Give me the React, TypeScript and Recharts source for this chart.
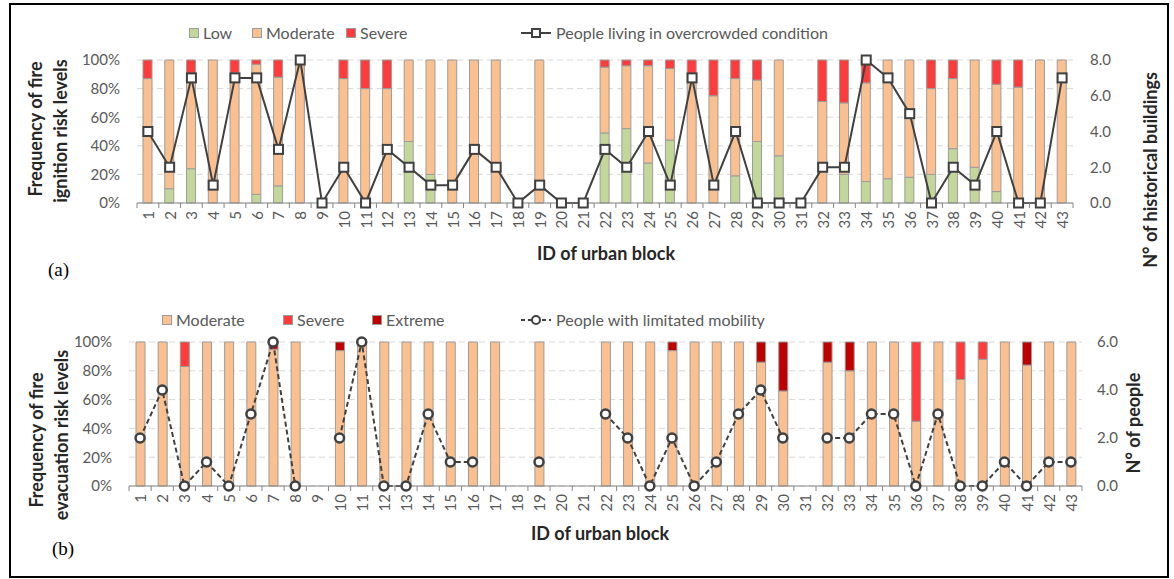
import React from 'react';
import { ComposedChart, Bar, Line, XAxis, YAxis, CartesianGrid } from 'recharts';

const FONT = 'Lato, "Open Sans", sans-serif';

const blockIds = [
  '1', '2', '3', '4', '5', '6', '7', '8', '9', '10', '11', '12', '13', '14', '15',
  '16', '17', '18', '19', '20', '21', '22', '23', '24', '25', '26', '27', '28', '29',
  '30', '31', '32', '33', '34', '35', '36', '37', '38', '39', '40', '41', '42', '43',
];

// (a) ignition risk, % of buildings per block
const lowIgnition = [
  0, 10, 24, 0, 0, 6, 12, 0, null, 0, 0, 0, 43, 20, 0, 0, 0, null, 0, null, null,
  49, 52, 28, 44, 0, 0, 19, 43, 33, null, 0, 20, 15, 17, 18, 20, 38, 25, 8, 0, 0, 0,
];
const moderateIgnition = [
  87, 90, 63, 100, 91, 91, 76, 100, null, 87, 80, 80, 57, 80, 100, 100, 100, null, 100, null, null,
  46, 44, 68, 50, 90, 75, 68, 43, 67, null, 71, 50, 69, 83, 82, 60, 49, 75, 75, 81, 100, 100,
];
const severeIgnition = [
  13, 0, 13, 0, 9, 3, 12, 0, null, 13, 20, 20, 0, 0, 0, 0, 0, null, 0, null, null,
  5, 4, 4, 6, 10, 25, 13, 14, 0, null, 29, 30, 16, 0, 0, 20, 13, 0, 17, 19, 0, 0,
];
const overcrowded = [
  4, 2, 7, 1, 7, 7, 3, 8, 0, 2, 0, 3, 2, 1, 1, 3, 2, 0, 1, 0, 0,
  3, 2, 4, 1, 7, 1, 4, 0, 0, 0, 2, 2, 8, 7, 5, 0, 2, 1, 4, 0, 0, 7,
];

// (b) evacuation risk
const moderateEvacuation = [
  100, 100, 83, 100, 100, 100, 95, 100, null, 94, 100, 100, 100, 100, 100, 100, 100, null, 100, null, null,
  100, 100, 100, 94, 100, 100, 100, 86, 66, null, 86, 80, 100, 100, 45, 100, 74, 88, 100, 84, 100, 100,
];
const severeEvacuation = [
  0, 0, 17, 0, 0, 0, 0, 0, null, 0, 0, 0, 0, 0, 0, 0, 0, null, 0, null, null,
  0, 0, 0, 0, 0, 0, 0, 0, 0, null, 0, 0, 0, 0, 55, 0, 26, 12, 0, 0, 0, 0,
];
const extremeEvacuation = [
  0, 0, 0, 0, 0, 0, 5, 0, null, 6, 0, 0, 0, 0, 0, 0, 0, null, 0, null, null,
  0, 0, 0, 6, 0, 0, 0, 14, 34, null, 14, 20, 0, 0, 0, 0, 0, 0, 0, 16, 0, 0,
];
const limitedMobility = [
  2, 4, 0, 1, 0, 3, 6, 0, null, 2, 6, 0, 0, 3, 1, 1, null, null, 1, null, null,
  3, 2, 0, 2, 0, 1, 3, 4, 2, null, 2, 2, 3, 3, 0, 3, 0, 0, 1, 0, 1, 1,
];

const ignitionRows = blockIds.map((id, i) => ({
  id,
  low: lowIgnition[i],
  moderate: moderateIgnition[i],
  severe: severeIgnition[i],
  people: overcrowded[i],
}));

const evacuationRows = blockIds.map((id, i) => ({
  id,
  moderate: moderateEvacuation[i],
  severe: severeEvacuation[i],
  extreme: extremeEvacuation[i],
  people: limitedMobility[i],
}));

const LOW = '#c4d79b';
const MODERATE = '#fac090';
const SEVERE = '#ff3b3b';
const EXTREME = '#c00000';
const OUTLINE = '#9c9c9c';
const AXIS = '#868686';
const TEXT = '#595959';

const BlockTick = (props: any) => {
  const { x, y, payload, index, band, last } = props;
  const axisY = y - 8;
  return (
    <g>
      <line x1={x - band / 2} x2={x - band / 2} y1={axisY} y2={axisY + 5} stroke={AXIS} />
      {index === last && <line x1={x + band / 2} x2={x + band / 2} y1={axisY} y2={axisY + 5} stroke={AXIS} />}
      <text
        x={x}
        y={y}
        transform={`rotate(-90 ${x} ${y})`}
        textAnchor="end"
        dominantBaseline="central"
        fontSize={15}
        fill={TEXT}
        fontFamily={FONT}
      >
        {payload.value}
      </text>
    </g>
  );
};

const Titles = ({ items }: { items: { text: string; cx: number; cy: number; angle?: number }[] }) => (
  <g>
    {items.map((t, i) => (
      <text
        key={i}
        transform={`translate(${t.cx} ${t.cy}) rotate(${t.angle ?? 0})`}
        textAnchor="middle"
        dominantBaseline="central"
        fontWeight="bold"
        fontSize={18}
        fill="#262626"
        fontFamily={FONT}
      >
        {t.text}
      </text>
    ))}
  </g>
);

const SquareDot = (props: any) => {
  const { cx, cy, index, value } = props;
  if (value == null || cy == null) return <g key={index} />;
  return <rect key={index} x={cx - 4.5} y={cy - 4.5} width={9} height={9} fill="#fff" stroke="#404040" strokeWidth={2} />;
};

const RingDot = (props: any) => {
  const { cx, cy, index, value } = props;
  if (value == null || cy == null) return <g key={index} />;
  return <circle key={index} cx={cx} cy={cy} r={4.5} fill="#fff" stroke="#404040" strokeWidth={2.5} />;
};

const Swatch = ({ color, left, top, label }: { color: string; left: number; top: number; label: string }) => (
  <div style={{ position: 'absolute', left, top, display: 'flex', alignItems: 'center', fontSize: 16, color: TEXT, fontFamily: FONT }}>
    <span style={{ display: 'inline-block', width: 8, height: 8, background: color, border: `1px solid ${OUTLINE}`, marginRight: 4 }} />
    {label}
  </div>
);

const LineKey = ({ left, top, label, dashed, square }: { left: number; top: number; label: string; dashed?: boolean; square?: boolean }) => (
  <div style={{ position: 'absolute', left, top, display: 'flex', alignItems: 'center', fontSize: 16, color: TEXT, fontFamily: FONT }}>
    <svg width={32} height={12} style={{ marginRight: 4 }}>
      <line x1={1} x2={31} y1={6} y2={6} stroke="#404040" strokeWidth={2} strokeDasharray={dashed ? '4 3' : undefined} />
      {square ? (
        <rect x={12} y={2} width={8} height={8} fill="#fff" stroke="#404040" strokeWidth={2} />
      ) : (
        <circle cx={16} cy={6} r={4} fill="#fff" stroke="#404040" strokeWidth={2} />
      )}
    </svg>
    {label}
  </div>
);

const axisTick = { fontSize: 15, fill: TEXT, fontFamily: FONT };

export default function App() {
  return (
    <div style={{ position: 'absolute', left: 0, top: 0, width: 1174, height: 579, background: '#fff', overflow: 'hidden' }}>
      <div style={{ position: 'absolute', left: 9, top: 3, width: 1160, height: 575, border: '2px solid #000', boxSizing: 'border-box' }} />

      {/* (a) ignition risk */}
      <div style={{ position: 'absolute', left: 0, top: 0 }}>
        <ComposedChart width={1174} height={275} data={ignitionRows} margin={{ top: 60, right: 0, bottom: 0, left: 0 }}>
          <CartesianGrid yAxisId="pct" vertical={false} stroke="#d9d9d9" strokeDasharray="6 4" />
          <XAxis
            dataKey="id"
            interval={0}
            height={72}
            tickLine={false}
            tickSize={0}
            tickMargin={8}
            axisLine={{ stroke: AXIS }}
            tick={(p: any) => <BlockTick {...p} band={936 / 43} last={42} />}
            label={<Titles items={[{ text: 'ID of urban block', cx: 606, cy: 253 }]} />}
          />
          <YAxis
            yAxisId="pct"
            width={137}
            domain={[0, 100]}
            ticks={[0, 20, 40, 60, 80, 100]}
            tickFormatter={(v: number) => `${v}%`}
            axisLine={false}
            tickLine={false}
            tickSize={0}
            tickMargin={17}
            tick={axisTick}
            label={
              <Titles
                items={[
                  { text: 'Frequency of fire', cx: 35, cy: 129, angle: -90 },
                  { text: 'ignition risk levels', cx: 60, cy: 131, angle: -90 },
                ]}
              />
            }
          />
          <YAxis
            yAxisId="count"
            orientation="right"
            width={101}
            domain={[0, 8]}
            ticks={[0, 2, 4, 6, 8]}
            tickFormatter={(v: number) => v.toFixed(1)}
            axisLine={false}
            tickLine={false}
            tickSize={0}
            tickMargin={17}
            tick={axisTick}
            label={<Titles items={[{ text: 'N° of historical buildings', cx: 1150, cy: 170, angle: -90 }]} />}
          />
          <Bar yAxisId="pct" dataKey="low" stackId="a" fill={LOW} stroke={OUTLINE} barSize={9} isAnimationActive={false} />
          <Bar yAxisId="pct" dataKey="moderate" stackId="a" fill={MODERATE} stroke={OUTLINE} barSize={9} isAnimationActive={false} />
          <Bar yAxisId="pct" dataKey="severe" stackId="a" fill={SEVERE} stroke={OUTLINE} barSize={9} isAnimationActive={false} />
          <Line
            yAxisId="count"
            dataKey="people"
            stroke="#404040"
            strokeWidth={2}
            dot={(p: any) => <SquareDot {...p} />}
            activeDot={false}
            isAnimationActive={false}
          />
        </ComposedChart>
      </div>

      <Swatch color={LOW} left={189} top={23} label="Low" />
      <Swatch color={MODERATE} left={252} top={23} label="Moderate" />
      <Swatch color={SEVERE} left={346} top={23} label="Severe" />
      <LineKey left={520} top={23} label="People living in overcrowded condition" square />

      <div style={{ position: 'absolute', left: 48, top: 259, fontFamily: '"Liberation Serif", serif', fontSize: 19 }}>(a)</div>

      {/* (b) evacuation risk */}
      <div style={{ position: 'absolute', left: 0, top: 280 }}>
        <ComposedChart width={1174} height={299} data={evacuationRows} margin={{ top: 62, right: 0, bottom: 0, left: 0 }}>
          <CartesianGrid yAxisId="pct" vertical={false} stroke="#d9d9d9" strokeDasharray="6 4" />
          <XAxis
            dataKey="id"
            interval={0}
            height={93}
            tickLine={false}
            tickSize={0}
            tickMargin={8}
            axisLine={{ stroke: AXIS }}
            tick={(p: any) => <BlockTick {...p} band={953 / 43} last={42} />}
            label={<Titles items={[{ text: 'ID of urban block', cx: 600, cy: 253 }]} />}
          />
          <YAxis
            yAxisId="pct"
            width={129}
            domain={[0, 100]}
            ticks={[0, 20, 40, 60, 80, 100]}
            tickFormatter={(v: number) => `${v}%`}
            axisLine={false}
            tickLine={false}
            tickSize={0}
            tickMargin={17}
            tick={axisTick}
            label={
              <Titles
                items={[
                  { text: 'Frequency of fire', cx: 36, cy: 160, angle: -90 },
                  { text: 'evacuation risk levels', cx: 61, cy: 155, angle: -90 },
                ]}
              />
            }
          />
          <YAxis
            yAxisId="count"
            orientation="right"
            width={92}
            domain={[0, 6]}
            ticks={[0, 2, 4, 6]}
            tickFormatter={(v: number) => v.toFixed(1)}
            axisLine={false}
            tickLine={false}
            tickSize={0}
            tickMargin={15}
            tick={axisTick}
            label={<Titles items={[{ text: 'N° of people', cx: 1133, cy: 143, angle: -90 }]} />}
          />
          <Bar yAxisId="pct" dataKey="moderate" stackId="b" fill={MODERATE} stroke={OUTLINE} barSize={9} isAnimationActive={false} />
          <Bar yAxisId="pct" dataKey="severe" stackId="b" fill={SEVERE} stroke={OUTLINE} barSize={9} isAnimationActive={false} />
          <Bar yAxisId="pct" dataKey="extreme" stackId="b" fill={EXTREME} stroke={OUTLINE} barSize={9} isAnimationActive={false} />
          <Line
            yAxisId="count"
            dataKey="people"
            stroke="#404040"
            strokeWidth={2}
            strokeDasharray="5 3"
            dot={(p: any) => <RingDot {...p} />}
            activeDot={false}
            isAnimationActive={false}
          />
        </ComposedChart>
      </div>

      <Swatch color={MODERATE} left={162} top={310} label="Moderate" />
      <Swatch color={SEVERE} left={283} top={310} label="Severe" />
      <Swatch color={EXTREME} left={372} top={310} label="Extreme" />
      <LineKey left={520} top={310} label="People with limitated mobility" dashed />

      <div style={{ position: 'absolute', left: 52, top: 538, fontFamily: '"Liberation Serif", serif', fontSize: 19 }}>(b)</div>
    </div>
  );
}
